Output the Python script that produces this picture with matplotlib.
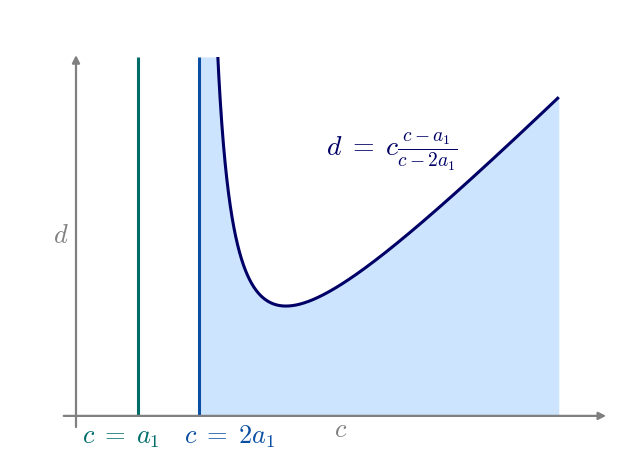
import numpy as np
import matplotlib
matplotlib.use("Agg")
import matplotlib.pyplot as plt

plt.rcParams['mathtext.fontset'] = 'cm'

# data (a1 = 1 units)
a1 = 1.0
c_end = 7.85
d_top = 9.84
d_axis = 4.06
labels = [r'$c\;=\;a_1$', r'$c\;=\;2a_1$']
formula = r'$d\;=\;c\frac{c-a_1}{c-2a_1}$'

gray = '#808080'
teal = '#006d6a'
blue = '#0a4fa3'
navy = '#000066'
fill = '#cce4fd'

fig = plt.figure(figsize=(6.23, 4.68), dpi=100)
ax = fig.add_axes([0, 0, 1, 1])
ax.set_xlim(-76/61.5, 547/61.5)
ax.set_ylim((668-468)/62.1, 668/62.1)
ax.axis('off')

c = np.linspace(2*a1 + 1e-4, c_end, 2000)
d = c*(c - a1)/(c - 2*a1)
mask = d <= d_top + 0.2
dc = np.minimum(d, d_top)
ax.fill_between(c, d_axis, dc, color=fill, lw=0, zorder=1)
ax.plot(c[mask], d[mask], color=navy, lw=2.2, zorder=4, solid_capstyle='butt')

ax.plot([a1, a1], [d_axis, d_top], color=teal, lw=2.2, zorder=3, solid_capstyle='butt')
ax.plot([2*a1, 2*a1], [d_axis, d_top], color=blue, lw=2.2, zorder=3, solid_capstyle='butt')

# axes arrows
ax.annotate('', xy=(8.62, d_axis), xytext=(-0.2, d_axis),
            arrowprops=dict(arrowstyle='-|>', color=gray, lw=1.6, mutation_scale=11,
                            shrinkA=0, shrinkB=0), zorder=5)
ax.annotate('', xy=(0, 9.87), xytext=(0, 3.88),
            arrowprops=dict(arrowstyle='-|>', color=gray, lw=1.6, mutation_scale=11,
                            shrinkA=0, shrinkB=0), zorder=5)

ax.text(0.73, 3.72, labels[0], color=teal, fontsize=19, ha='center', va='center')
ax.text(2.49, 3.72, labels[1], color=blue, fontsize=19, ha='center', va='center')
ax.text(4.31, 3.84, r'$c$', color=gray, fontsize=19, ha='center', va='center')
ax.text(-0.24, 6.95, r'$d$', color=gray, fontsize=19, ha='center', va='center')
ax.text(5.14, 8.31, formula, color=navy, fontsize=20, ha='center', va='center')

# hide curve above top
ax.add_patch(plt.Rectangle((1.5, d_top), 2, 2, color='white', zorder=4.5, lw=0))

fig.savefig('out.png', dpi=100)
